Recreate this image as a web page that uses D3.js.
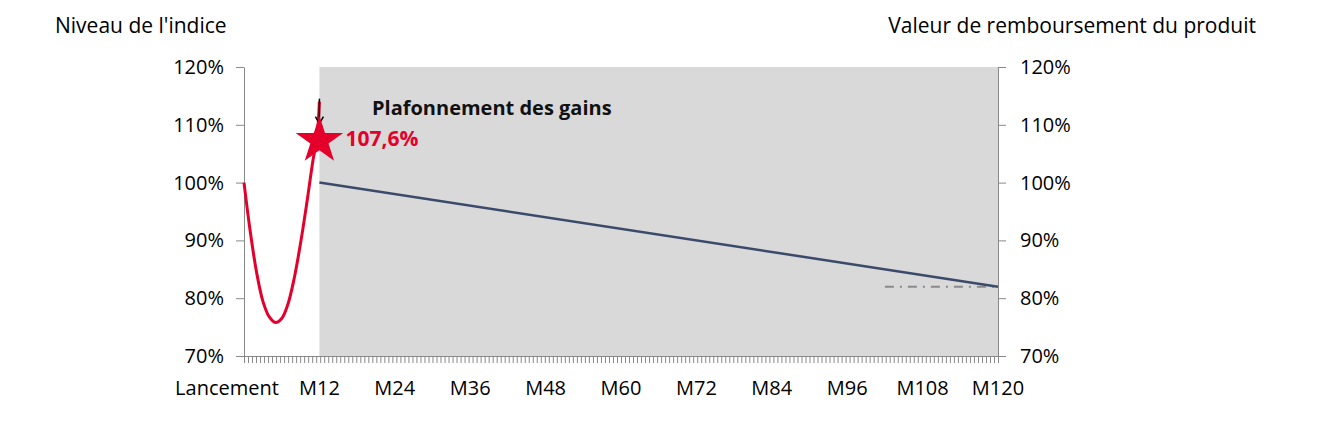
<!DOCTYPE html>
<html><head><meta charset="utf-8">
<script src="https://cdn.jsdelivr.net/npm/d3@7"></script>
<style>body{margin:0;background:#fff;font-family:"Open Sans",sans-serif}</style>
</head><body><svg id="c" width="1317" height="421"></svg>
<script>
var indexMonths = [0, 1, 2, 3, 4, 5, 6, 7, 8, 9, 10, 11, 11.6, 12];
var indexValues = [100, 91.5, 84.5, 79.5, 76.8, 75.8, 76.5, 79, 83.5, 89.5, 96.5, 104, 107.6, 114];
var productMonths = [12, 120];
var productValues = [100, 82];
var floorMonths = [102, 120];
var floorValues = [82, 82];
var xTickMonths = [0, 12, 24, 36, 48, 60, 72, 84, 96, 108, 120];
var xTickLabels = ["Lancement", "M12", "M24", "M36", "M48", "M60", "M72", "M84", "M96", "M108", "M120"];
var yTicks = [70, 80, 90, 100, 110, 120];
var capMonth = 12, capValue = 107.6;

var svg = d3.select("#c");
var x = d3.scaleLinear().domain([0, 120]).range([244, 998]);
var y = d3.scaleLinear().domain([70, 120]).range([356, 67]);

svg.append("rect").attr("x", x(12)).attr("y", y(120))
  .attr("width", x(120) - x(12)).attr("height", y(70) - y(120)).attr("fill", "#d9d9d9");

function yAxisStyle(g) {
  g.selectAll("path,line").attr("stroke", "#888");
  g.selectAll("text").attr("font-size", 20).attr("fill", "#000").attr("font-family", "Open Sans");
}
svg.append("g").attr("transform", "translate(" + x(0) + ",0)")
  .call(d3.axisLeft(y).tickValues(yTicks).tickSize(8).tickSizeOuter(0).tickPadding(12).tickFormat(function(d){return d + "%";}))
  .call(yAxisStyle);
svg.append("g").attr("transform", "translate(" + x(120) + ",0)")
  .call(d3.axisRight(y).tickValues(yTicks).tickSize(8).tickSizeOuter(0).tickPadding(14).tickFormat(function(d){return d + "%";}))
  .call(yAxisStyle);

// x axis with minor ticks
var minor = d3.range(0, 120.01, 120 / 188);
var xg = svg.append("g").attr("transform", "translate(0," + y(70) + ")");
xg.call(d3.axisBottom(x).tickValues(minor).tickSize(7).tickSizeOuter(0).tickFormat(""));
xg.selectAll("path,line").attr("stroke", "#888");
svg.append("g").selectAll("text").data(xTickMonths).enter().append("text")
  .attr("x", function(d){return x(d) + (d === 0 ? -17 : 0);})
  .attr("y", 395).attr("text-anchor", "middle").attr("font-size", 20)
  .text(function(d, i){return xTickLabels[i];});

var line = d3.line().x(function(d){return x(d[0]);}).y(function(d){return y(d[1]);});
svg.append("path").attr("d", d3.line().curve(d3.curveCatmullRom).x(function(d){return x(d[0]);}).y(function(d){return y(d[1]);})(d3.zip(indexMonths, indexValues)))
  .attr("fill", "none").attr("stroke", "#e4002b").attr("stroke-width", 3);
svg.append("path").attr("d", line(d3.zip(floorMonths, floorValues)))
  .attr("fill", "none").attr("stroke", "#8a8a8a").attr("stroke-width", 2).attr("stroke-dasharray", "9,6,2,6");
svg.append("path").attr("d", line(d3.zip(productMonths, productValues)))
  .attr("fill", "none").attr("stroke", "#3b4a6b").attr("stroke-width", 2.5);

// arrow
svg.append("line").attr("x1", x(capMonth)).attr("x2", x(capMonth)).attr("y1", y(capValue) - 40).attr("y2", y(capValue) - 16)
  .attr("stroke", "#000").attr("stroke-width", 1.5);
svg.append("path").attr("d", "M" + (x(capMonth) - 4) + "," + (y(capValue) - 22) + "L" + x(capMonth) + "," + (y(capValue) - 15) + "L" + (x(capMonth) + 4) + "," + (y(capValue) - 22))
  .attr("fill", "none").attr("stroke", "#000").attr("stroke-width", 1.5);
svg.append("path").attr("d", d3.symbol(d3.symbolStar, 700)())
  .attr("transform", "translate(" + x(capMonth) + "," + (y(capValue) + 2) + ")").attr("fill", "#e4002b");
svg.append("text").attr("x", x(capMonth) + 26).attr("y", y(capValue) + 7)
  .attr("font-size", 21).attr("font-weight", "bold").attr("fill", "#e4002b").text("107,6%");
svg.append("text").attr("x", 372).attr("y", 115).attr("font-size", 20).attr("font-weight", "bold")
  .attr("fill", "#111").text("Plafonnement des gains");

svg.append("text").attr("x", 55).attr("y", 33).attr("font-size", 21).text("Niveau de l'indice");
svg.append("text").attr("x", 1256).attr("y", 33).attr("font-size", 21).attr("text-anchor", "end").text("Valeur de remboursement du produit");
</script></body></html>
